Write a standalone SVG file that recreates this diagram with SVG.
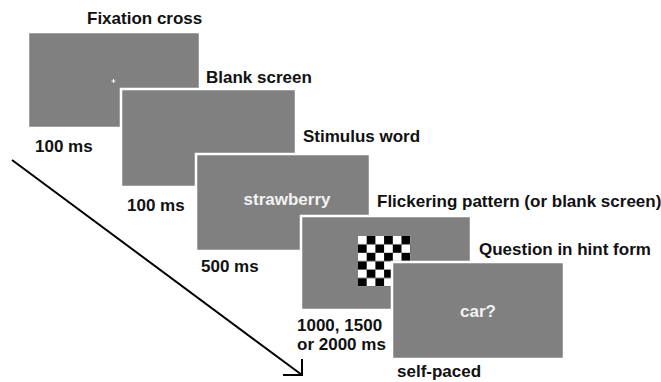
<svg xmlns="http://www.w3.org/2000/svg" width="661" height="382" viewBox="0 0 661 382">
  <style>
    .screen { fill: #808080; stroke: #ffffff; stroke-width: 2.5; }
    .label { font-family: "Liberation Sans", Arial, sans-serif; font-weight: bold; font-size: 17px; fill: #111111; }
    .word { font-family: "Liberation Sans", Arial, sans-serif; font-weight: bold; font-size: 17px; fill: #f2f2f2; text-anchor: middle; }
    .arrow { fill: none; stroke: #000000; stroke-width: 2; }
  </style>
  <defs>
    <!-- 6x6 checkerboard, white in the top-left cell -->
    <pattern id="checker" x="358" y="236" width="17.4" height="16.8" patternUnits="userSpaceOnUse">
      <rect x="0" y="0" width="17.4" height="16.8" fill="#ffffff"/>
      <rect x="8.7" y="0" width="8.7" height="8.4" fill="#000000"/>
      <rect x="0" y="8.4" width="8.7" height="8.4" fill="#000000"/>
    </pattern>
  </defs>
  <rect width="661" height="382" fill="#ffffff"/>

  <!-- time axis -->
  <g id="connectors">
    <path class="arrow" d="M12 160 L302 375"/>
    <path class="arrow" d="M302 359 L302 375 L283 375"/>
  </g>

  <g id="fixation">
    <text class="label" x="87" y="24">Fixation cross</text>
    <rect class="screen" x="28" y="32" width="172" height="96"/>
    <path d="M111.5 81 H115.5 M113.5 79 V83" stroke="#ffffff" stroke-width="1"/>
    <text class="label" x="35" y="152">100 ms</text>
  </g>

  <g id="blank">
    <text class="label" x="206" y="83">Blank screen</text>
    <rect class="screen" x="121" y="89" width="175" height="98"/>
    <text class="label" x="127" y="211">100 ms</text>
  </g>

  <g id="stimulus">
    <text class="label" x="303" y="142">Stimulus word</text>
    <rect class="screen" x="196" y="154" width="174" height="97"/>
    <text class="word" x="287" y="205">strawberry</text>
    <text class="label" x="201" y="272">500 ms</text>
  </g>

  <g id="flicker">
    <text class="label" x="377" y="207">Flickering pattern (or blank screen)</text>
    <rect class="screen" x="301" y="216" width="170" height="94"/>
    <rect x="358" y="236" width="52.2" height="50.4" fill="url(#checker)"/>
    <text class="label" x="297" y="331">1000, 1500</text>
    <text class="label" x="297" y="350">or 2000 ms</text>
  </g>

  <g id="question">
    <text class="label" x="479" y="255">Question in hint form</text>
    <rect class="screen" x="392" y="262" width="172" height="97"/>
    <text class="word" x="478" y="317">car?</text>
    <text class="label" x="397" y="377">self-paced</text>
  </g>
</svg>
